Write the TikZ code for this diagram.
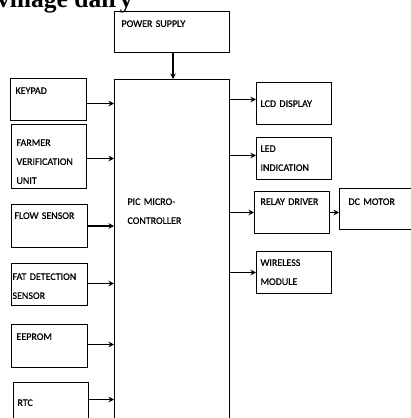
\documentclass[tikz,border=0pt]{standalone}
\usepackage{fontspec}
\setmainfont[FakeBold=0.6]{Carlito}
\newfontfamily\titlefont{Liberation Serif}
\usetikzlibrary{arrows.meta}
\tikzset{
  unitbox/.style={draw,line width=1pt,anchor=north west,align=left,
    inner xsep=5pt,inner ysep=0pt,font=\fontsize{10}{19}\selectfont},
  feed/.style={-{Stealth[length=5.5pt,width=5.5pt]},line width=1.5pt}
}
\begin{document}
\begin{tikzpicture}[x=1pt,y=-1pt]
\useasboundingbox (0,0) rectangle (411,418);
\clip (0,0) rectangle (411,418);
% heading, cut off at the top
\node[anchor=base west,inner sep=0pt,font=\titlefont\bfseries\fontsize{25.5}{26}\selectfont] (title) at (-3,7.4) {village dairy};
% controller and supply
\node[unitbox,inner xsep=7pt,text width=101pt,text height=15.4pt,text depth=25.6pt] (power) at (114,11) {POWER SUPPLY};
\node[unitbox,inner xsep=13pt,text width=89pt,text height=125.4pt,text depth=234.6pt] (micro) at (114,79) {PIC MICRO-\\CONTROLLER};
% inputs
\node[unitbox,text width=66pt,text height=15.4pt,text depth=26.6pt] (keypad) at (10,78) {KEYPAD};
\node[unitbox,text width=65pt,text height=21.4pt,text depth=42.6pt] (farmer) at (11,124) {FARMER\\VERIFICATION\\UNIT};
\node[unitbox,inner xsep=3pt,text width=70pt,text height=14.4pt,text depth=28.6pt] (flow) at (11,204) {FLOW SENSOR};
\node[unitbox,inner xsep=1pt,text width=74pt,text height=16.4pt,text depth=25.6pt] (fat) at (11,263) {FAT DETECTION\\SENSOR};
\node[unitbox,text width=66pt,text height=15.4pt,text depth=27.6pt] (eeprom) at (11,324) {EEPROM};
\node[unitbox,inner xsep=4pt,text width=67pt,text height=23.4pt,text depth=26.6pt] (rtc) at (13,382) {RTC};
% outputs
\node[unitbox,inner xsep=4pt,text width=67pt,text height=24.4pt,text depth=17.6pt] (lcd) at (256,82) {LCD DISPLAY};
\node[unitbox,inner xsep=4pt,text width=67pt,text height=14.4pt,text depth=27.6pt] (led) at (256,137) {LED\\INDICATION};
\node[unitbox,inner xsep=6pt,text width=63pt,text height=13.4pt,text depth=28.6pt] (relay) at (254,191) {RELAY DRIVER};
\node[unitbox,inner xsep=9pt,text width=67pt,text height=16.4pt,text depth=24.6pt] (motor) at (339,188) {DC MOTOR};
\node[unitbox,inner xsep=4pt,text width=67pt,text height=14.4pt,text depth=27.6pt] (wireless) at (256,251) {WIRELESS\\MODULE};
% connectors
\draw[feed] (power.south -| 173,0) -- (micro.north -| 173,0);
\draw[feed] ([yshift=-4pt]keypad.east) -- ([yshift=-4pt]keypad.east -| micro.west);
\draw[feed] ([yshift=-2pt]farmer.east) -- ([yshift=-2pt]farmer.east -| micro.west);
\draw[feed] (flow.east) -- (flow.east -| micro.west);
\draw[feed] ([yshift=1pt]fat.east) -- ([yshift=1pt]fat.east -| micro.west);
\draw[feed] ([yshift=1.5pt]eeprom.east) -- ([yshift=1.5pt]eeprom.east -| micro.west);
\draw[feed] ([yshift=8pt]rtc.east) -- ([yshift=8pt]rtc.east -| micro.west);
\draw[feed] ([yshift=4pt]lcd.west -| micro.east) -- ([yshift=4pt]lcd.west);
\draw[feed] ([yshift=3pt]led.west -| micro.east) -- ([yshift=3pt]led.west);
\draw[feed] (relay.west -| micro.east) -- (relay.west);
\draw[feed] (wireless.west -| micro.east) -- (wireless.west);
\draw[feed] (relay.east) -- (relay.east -| motor.west);
\end{tikzpicture}
\end{document}
